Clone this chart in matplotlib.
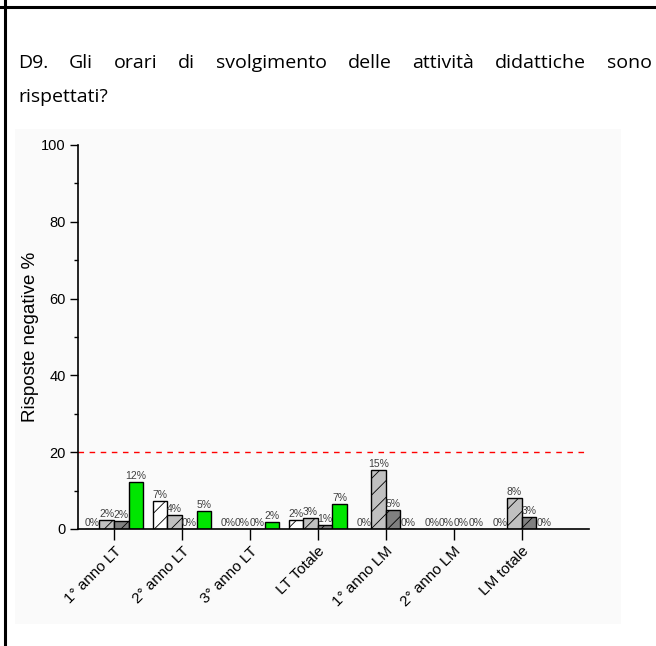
import numpy as np
import matplotlib
matplotlib.use("Agg")
import matplotlib.pyplot as plt
import matplotlib.transforms as mtransforms
from matplotlib.patches import Rectangle
from matplotlib.lines import Line2D

# data (negative answers, %)
categories = ["1° anno LT", "2° anno LT", "3° anno LT", "LT Totale",
              "1° anno LM", "2° anno LM", "LM totale"]
serie_a = [0, 7.3, 0, 2.3, 0, 0, 0]        # white, hatched
serie_b = [2.3, 3.6, 0, 2.9, 15.4, 0, 8.1]  # light grey, hatched
serie_c = [2.1, 0, 0, 1.0, 4.9, 0, 3.1]     # dark grey, hatched
serie_d = [12.2, 4.7, 1.8, 6.6, 0, 0, 0]    # green
soglia = 20

title_lines = ["D9. Gli orari di svolgimento delle attività didattiche sono",
               "rispettati?"]

plt.rcParams["font.family"] = ["Liberation Sans", "DejaVu Sans"]
plt.rcParams["hatch.linewidth"] = 0.6
plt.rcParams["hatch.color"] = "#404040"

W, H = 656, 646
fig = plt.figure(figsize=(W / 100, H / 100), dpi=100)

def px(x0, y0, x1, y1):
    # pixel box -> figure fraction [left, bottom, width, height]
    return [x0 / W, 1 - y1 / H, (x1 - x0) / W, (y1 - y0) / H]

# faint panel behind the chart
fig.add_artist(Rectangle((15 / W, 1 - 624 / H), (621 - 15) / W, (624 - 129) / H,
                         transform=fig.transFigure, facecolor="#fafafa",
                         edgecolor="none", zorder=-5))
# table border lines
fig.add_artist(Line2D([5 / W, 5 / W], [0, 1], transform=fig.transFigure,
                      color="black", lw=2.2))
fig.add_artist(Line2D([0, 1], [1 - 7 / H, 1 - 7 / H], transform=fig.transFigure,
                      color="black", lw=2.2))

ax = fig.add_axes(px(78, 145, 589, 529))
ax.set_zorder(2)
ax.patch.set_alpha(0)

x = np.arange(len(categories))
w = 0.215
series = [(serie_a, "white", "//"), (serie_b, "#c0c0c0", "//"),
          (serie_c, "#808080", "//"), (serie_d, "#00e600", "")]
for i, (vals, col, hatch) in enumerate(series):
    bars = ax.bar(x + (i - 1.5) * w, vals, w, color=col, edgecolor="black",
                  linewidth=1, hatch=hatch, zorder=2)
    ax.bar_label(bars, labels=[f"{round(v)}%" for v in vals], fontsize=7.5,
                 color="#404040", padding=0.5)

ax.axhline(soglia, color="red", lw=1, ls=(0, (4, 4)), zorder=1)

ax.set_xlim(-0.53, 6.99)
ax.set_ylim(0, 100)
ax.set_yticks(np.arange(0, 101, 20))
ax.set_yticks(np.arange(10, 100, 20), minor=True)
ax.set_xticks(x)
ax.set_xticklabels(categories, rotation=45, ha="right", va="top",
                   rotation_mode="anchor", fontsize=11)
shift = mtransforms.ScaledTranslation(9 / 100, 2 / 100, fig.dpi_scale_trans)
for lab in ax.get_xticklabels():
    lab.set_transform(lab.get_transform() + shift)
ax.tick_params(axis="y", which="major", length=6, width=1, labelsize=10.5, pad=3)
ax.tick_params(axis="y", which="minor", length=3, width=1)
ax.tick_params(axis="x", length=8, width=1, pad=3)
for s in ["top", "right"]:
    ax.spines[s].set_visible(False)
for s in ["left", "bottom"]:
    ax.spines[s].set_linewidth(1.2)
ax.set_ylabel("Risposte negative %", fontsize=13.5, labelpad=1)

# title, justified over the full width like in the document
fig.canvas.draw()
r = fig.canvas.get_renderer()
left, right = 18, 652
tfont = dict(family=["Open Sans", "DejaVu Sans"], fontsize=14, color="black")
words = title_lines[0].split()
tw = []
for wd in words:
    t = fig.text(0, 0, wd, **tfont)
    tw.append(t.get_window_extent(r).width)
    t.remove()
gap = (right - left - sum(tw)) / (len(words) - 1)
xpos = left
for wd, ww in zip(words, tw):
    fig.text(xpos / W, 1 - 63 / H, wd, va="center", ha="left", **tfont)
    xpos += ww + gap
fig.text(left / W, 1 - 97 / H, title_lines[1], va="center", ha="left", **tfont)

fig.savefig("out.png", dpi=100)
